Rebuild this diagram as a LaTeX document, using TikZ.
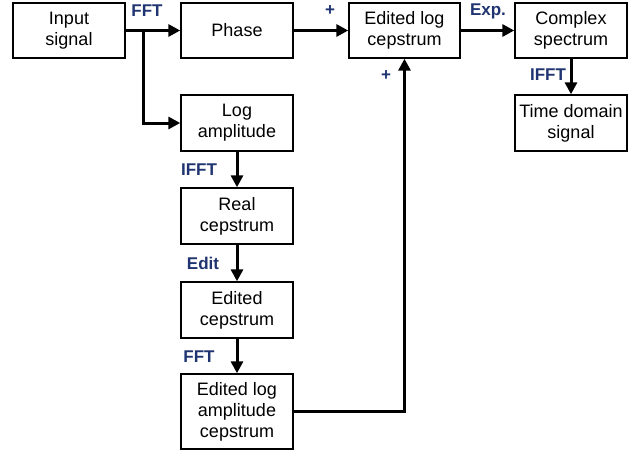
\documentclass[tikz,border=0pt]{standalone}
\usepackage{fontspec}
\setmainfont{Liberation Sans}
\usepackage{xcolor}
\definecolor{LabelNavy}{HTML}{1F3470}
\usepackage{tikz}
\usetikzlibrary{arrows.meta,calc,positioning}

\begin{document}
\begin{tikzpicture}[
    x=1pt,y=-1pt,
    block/.style={draw,line width=1.4pt,align=center,minimum width=112pt,
      minimum height=55pt,inner sep=2pt,font=\fontsize{18}{21}\selectfont},
    flow/.style={line width=3pt,-{Triangle[length=12pt,width=12pt]}},
    tag/.style={text=LabelNavy,font=\fontsize{17}{19}\bfseries\selectfont,inner sep=0pt}
  ]
    \useasboundingbox (0,0) rectangle (629,452);
    % upper row
    \node[block] (input) at (69,30.5) {Input\\signal};
    \node[block] (phase) at (237,30.5) {Phase};
    \node[block,minimum width=111pt] (editlog) at (404.5,30.5) {Edited log\\cepstrum};
    \node[block] (complex) at (571,30.5) {Complex\\spectrum};
    \node[block,minimum height=56pt] (timesig) at (571,123) {Time domain\\signal};
    % amplitude branch
    \node[block,minimum height=56pt] (logamp) at (237,123) {Log\\amplitude};
    \node[block,minimum height=56pt] (realcep) at (237,216) {Real\\cepstrum};
    \node[block,minimum height=56pt] (editcep) at (237,310) {Edited\\cepstrum};
    \node[block,minimum height=75pt] (editamp) at (237,411.5) {Edited log\\amplitude\\cepstrum};
    \coordinate (split) at (143,30.5);
    % connectors
    \draw[flow] (input.east) -- (phase.west);
    \draw[flow] (split) |- (logamp.west);
    \draw[flow] (phase.east) -- (editlog.west);
    \draw[flow] (editlog.east) -- (complex.west);
    \draw[flow] (complex.south) -- (timesig.north);
    \draw[flow] (logamp.south) -- (realcep.north);
    \draw[flow] (realcep.south) -- (editcep.north);
    \draw[flow] (editcep.south) -- (editamp.north);
    \draw[flow] (editamp.east) -| (editlog.south);
    % labels
    \node[tag] (fftA) at (147,11) {FFT};
    \node[tag] (plusA) at (330,11) {+};
    \node[tag] (plusB) at (386,76) {+};
    \node[tag] (expo) at (488,11) {Exp.};
    \node[tag] (ifftB) at (548,75) {IFFT};
    \node[tag] (ifftA) at (199,170) {IFFT};
    \node[tag] (edit) at (203,263) {Edit};
    \node[tag] (fftB) at (199,357) {FFT};
\end{tikzpicture}
\end{document}
